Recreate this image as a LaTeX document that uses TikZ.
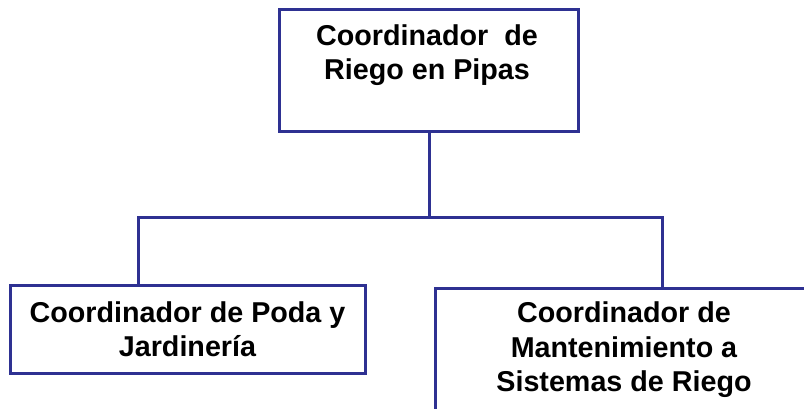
\documentclass[tikz,border=0pt]{standalone}
\usepackage{fontspec}
\setmainfont{Liberation Sans}
\definecolor{navy}{RGB}{46,49,146}
\begin{document}
\begin{tikzpicture}[x=1pt,y=-1pt,
 box/.style={draw=navy,line width=3pt,fill=white,inner sep=0pt},
 lbl/.style={font=\fontsize{28.7}{34.5}\selectfont\bfseries,align=center,inner sep=0pt},
 conn/.style={draw=navy,line width=3pt}]
\useasboundingbox (0,0) rectangle (804,409);
\clip (0,0) rectangle (804,409);
\node[box,minimum width=299pt,minimum height=122pt] (top) at (428.5,71) {};
\node[lbl] (toptext) at (427,55) {Coordinador~~de\\Riego en Pipas};
\node[box,lbl,minimum width=355pt,minimum height=88pt] (left) at (187.5,329) {Coordinador de Poda y\\Jardinería};
\node[box,lbl,minimum width=384pt,minimum height=124pt] (right) at (627,350) {\hspace*{-6pt}Coordinador de\\\hspace*{-6pt}Mantenimiento a\\\hspace*{-6pt}Sistemas de Riego};
\coordinate (mid) at (429,218);
\coordinate (lx) at (138,218);
\coordinate (rx) at (662,218);
\draw[conn] (top.south -| mid) -- (mid);
\draw[conn] (left.north -| lx) |- (mid) -| (right.north -| rx);
\end{tikzpicture}
\end{document}
